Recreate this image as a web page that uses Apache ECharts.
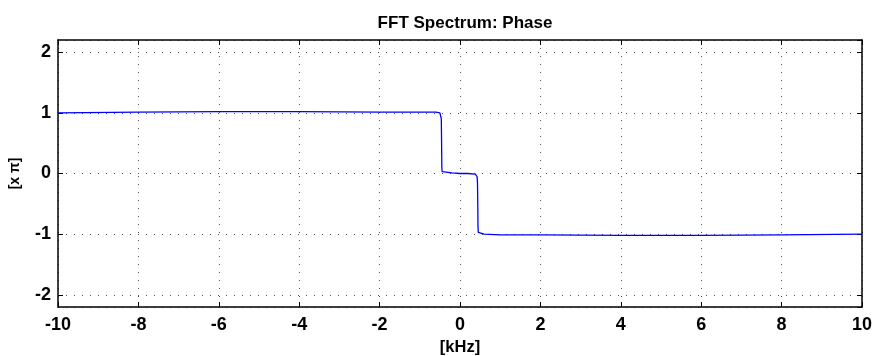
<!DOCTYPE html>
<html>
<head>
<meta charset="utf-8">
<script src="https://cdn.jsdelivr.net/npm/echarts@6/dist/echarts.min.js"></script>
<style>
  html, body { margin: 0; padding: 0; background: #fff; }
  #chart { width: 875px; height: 356px; }
</style>
</head>
<body>
<div id="chart"></div>
<script>
// frequency in kHz, phase in units of pi
const freq = [-10, -8, -6, -4, -2, -1, -0.6, -0.5, -0.475, -0.465, -0.458, -0.452, -0.445, -0.43, -0.4, -0.2, 0, 0.2, 0.38, 0.41, 0.425, 0.435, 0.442, 0.448, 0.455, 0.47, 0.5, 0.6, 1, 2, 4, 6, 8, 10];
const phase = [1.00, 1.01, 1.02, 1.02, 1.01, 1.01, 1.01, 1.00, 0.98, 0.9, 0.5, 0.1, 0.03, 0.015, 0.01, 0.01, 0.00, 0.00, -0.01, -0.02, -0.05, -0.15, -0.5, -0.88, -0.97, -0.99, -1.00, -1.00, -1.01, -1.01, -1.02, -1.02, -1.01, -1.00];

const xTicks = { min: -10, max: 10, step: 2 };
const yTicks = { min: -2.2, max: 2.2 };

const chart = echarts.init(document.getElementById('chart'));

const font = 'Liberation Sans, Arial, sans-serif';
const dotted = { color: '#555', width: 1, type: [1, 7] };
const boxLine = { onZero: false, show: true, lineStyle: { color: '#000', width: 1.5 } };
const inTick = { show: true, inside: true, length: 5, lineStyle: { color: '#000' } };

chart.setOption({
  animation: false,
  backgroundColor: '#fff',
  title: {
    text: 'FFT Spectrum: Phase',
    left: 460,
    top: 10,
    textAlign: 'center',
    textStyle: { fontFamily: font, fontWeight: 'bold', fontSize: 17, color: '#000' }
  },
  grid: { left: 58, right: 13, top: 40, bottom: 49, show: false, outerBoundsMode: 'none', containLabel: false },
  xAxis: [
    {
      type: 'value',
      min: xTicks.min, max: xTicks.max, interval: xTicks.step,
      name: '[kHz]', nameLocation: 'middle', nameGap: 30,
      nameTextStyle: { fontFamily: font, fontWeight: 'bold', fontSize: 16.5, color: '#000' },
      axisLine: boxLine,
      axisTick: inTick,
      axisLabel: { fontFamily: font, fontWeight: 'bold', fontSize: 18, color: '#000', margin: 9 },
      splitLine: { show: true, lineStyle: dotted }
    },
    {
      type: 'value', position: 'top',
      min: xTicks.min, max: xTicks.max, interval: xTicks.step,
      axisLine: boxLine,
      axisTick: inTick,
      axisLabel: { show: false },
      splitLine: { show: false }
    }
  ],
  yAxis: [
    {
      type: 'value',
      min: yTicks.min, max: yTicks.max, splitNumber: 4,
      name: '[x \u03c0]', nameLocation: 'middle', nameGap: 36, nameRotate: 90,
      nameTextStyle: { fontFamily: font, fontWeight: 'bold', fontSize: 14, color: '#000' },
      axisLine: boxLine,
      axisTick: inTick,
      axisLabel: {
        fontFamily: font, fontWeight: 'bold', fontSize: 18, color: '#000', margin: 7,
        showMinLabel: false, showMaxLabel: false,
        formatter: v => (Math.abs(v - Math.round(v)) < 1e-6 ? String(Math.round(v)) : '')
      },
      splitLine: { show: true, lineStyle: dotted }
    },
    {
      type: 'value', position: 'right',
      min: yTicks.min, max: yTicks.max, splitNumber: 4,
      axisLine: boxLine,
      axisTick: inTick,
      axisLabel: { show: false },
      splitLine: { show: false }
    }
  ],
  series: [
    {
      type: 'line',
      data: freq.map((f, i) => [f, phase[i]]),
      showSymbol: false,
      lineStyle: { color: '#0000ff', width: 1.3 },
      z: 5
    }
  ]
});
</script>
</body>
</html>
